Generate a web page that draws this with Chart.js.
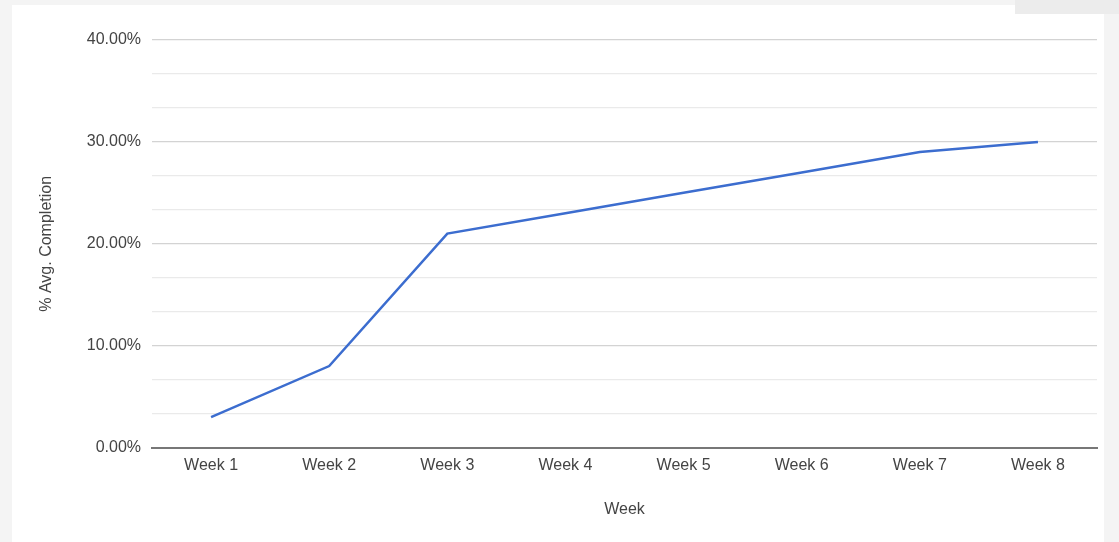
<!DOCTYPE html>
<html>
<head>
<meta charset="utf-8">
<script src="https://cdn.jsdelivr.net/npm/chart.js@4"></script>
<style>
    html, body { margin: 0; padding: 0; }
    body { width: 1119px; height: 542px; background: #f4f4f4; position: relative; overflow: hidden; }
    #panel { position: absolute; left: 12px; top: 5px; width: 1092px; height: 537px; background: #ffffff; }
    #tab { position: absolute; left: 1015px; top: 0; width: 104px; height: 14px; background: #ececec; }
    #wrap { position: absolute; left: 0; top: 0; width: 1119px; height: 542px; }
</style>
</head>
<body>
<div id="panel"></div>
<div id="tab"></div>
<div id="wrap"><canvas id="lineChart"></canvas></div>
<script>
// chart data
const weeks = ['Week 1', 'Week 2', 'Week 3', 'Week 4', 'Week 5', 'Week 6', 'Week 7', 'Week 8'];
const avgCompletion = [3, 8, 21, 23, 25, 27, 29, 30];
const yMin = 0;
const yMax = 40;
const yLabelStep = 10;
const yGridStep = 10 / 3;

const textColor = '#444444';
const font = { family: '"Liberation Sans", Arial, sans-serif', size: 16 };

function isMajor(value) {
    const r = value / yLabelStep;
    return Math.abs(r - Math.round(r)) < 1e-6;
}

function renderLineChart() {
    const ctx = document.getElementById('lineChart').getContext('2d');
    return new Chart(ctx, {
        type: 'line',
        data: {
            labels: weeks,
            datasets: [{
                label: '% Avg. Completion',
                data: avgCompletion,
                borderColor: '#3c6dcf',
                backgroundColor: '#3c6dcf',
                borderWidth: 2.5,
                pointRadius: 0,
                tension: 0,
            }]
        },
        options: {
            responsive: true,
            maintainAspectRatio: false,
            animation: false,
            layout: {
                padding: { left: 37, right: 22, top: 40, bottom: 23 }
            },
            plugins: {
                legend: { display: false },
                tooltip: { enabled: false }
            },
            scales: {
                x: {
                    offset: true,
                    grid: { display: false, drawTicks: false },
                    border: { display: true, color: '#777777', width: 2 },
                    ticks: { color: textColor, font: font, padding: 8, maxRotation: 0 },
                    title: {
                        display: true,
                        text: 'Week',
                        color: textColor,
                        font: font,
                        padding: { top: 17, bottom: 0 }
                    }
                },
                y: {
                    min: yMin,
                    max: yMax,
                    afterFit: function(scale) { scale.width = 115; },
                    grid: {
                        drawTicks: false,
                        color: function(c) {
                            if (c.tick.value === 0) return '#777777';
                            return isMajor(c.tick.value) ? '#d3d3d3' : '#eaeaea';
                        },
                        lineWidth: function(c) {
                            return c.tick.value === 0 ? 0 : 1.2;
                        }
                    },
                    border: { display: false },
                    ticks: {
                        stepSize: yGridStep,
                        autoSkip: false,
                        color: textColor,
                        font: font,
                        padding: 11,
                        callback: function(value) {
                            return isMajor(value) ? value.toFixed(2) + '%' : '';
                        }
                    },
                    title: {
                        display: true,
                        text: '% Avg. Completion',
                        color: textColor,
                        font: font,
                        padding: 0
                    }
                }
            }
        }
    });
}

window.addEventListener('DOMContentLoaded', () => {
    renderLineChart();
});
</script>
</body>
</html>
